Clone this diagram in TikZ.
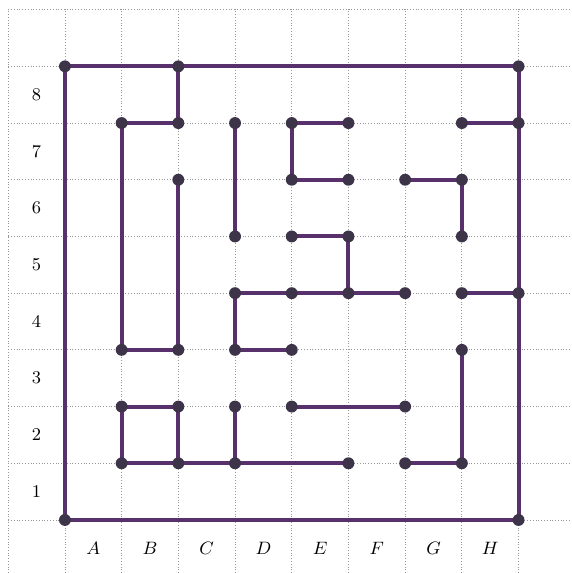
\documentclass[tikz,border=0pt]{standalone}
\usepackage{tikz}

\definecolor{wallcol}{RGB}{88,48,108}
\definecolor{dotcol}{RGB}{62,52,74}
\definecolor{gridcol}{RGB}{150,150,150}

\begin{document}
\begin{tikzpicture}[line width=2pt,
    gridline/.style={gridcol,line width=0.4pt,densely dotted},
    wall/.style={wallcol,line cap=round,line join=round},
    lbl/.style={font=\small}]
  \useasboundingbox (-1.145,-0.935) rectangle (8.934,9.17);
  % cuadricula
  \foreach \x in {-1,...,8} \draw[gridline] (\x,-0.935)--(\x,9.02);
  \foreach \y in {0,...,9} \draw[gridline] (-1,\y)--(8.934,\y);
  % etiquetas
  \foreach \n in {1,...,8} \node[lbl] at (-0.5,\n-0.5){\n};
  \foreach \c [count=\i] in {A,B,C,D,E,F,G,H} \node[lbl] at (\i-0.5,-0.5){$\c$};
  % puntos de la red
  \foreach \i in {0,...,8} \foreach \j in {0,...,8}{
    \coordinate (p\i\j) at (\i,\j);
  }
  % paredes
  \draw[wall] (p00)--(p08)--(p88)--(p80)--cycle;
  \draw[wall] (p28)--(p27)--(p17)--(p13)--(p23)--(p26);
  \draw[wall] (p37)--(p35);
  \draw[wall] (p57)--(p47)--(p46)--(p56);
  \draw[wall] (p45)--(p55)--(p54);
  \draw[wall] (p43)--(p33)--(p34)--(p64);
  \draw[wall] (p66)--(p76)--(p75);
  \draw[wall] (p77)--(p87);
  \draw[wall] (p74)--(p84);
  \draw[wall] (p73)--(p71)--(p61);
  \draw[wall] (p21)--(p22)--(p12)--(p11)--(p51);
  \draw[wall] (p32)--(p31);
  \draw[wall] (p42)--(p62);
  % nodos
  \foreach \p in {08,28,88,00,80,17,27,26,13,23,37,35,47,57,46,56,45,55,
                  34,44,54,64,33,43,66,76,75,77,87,74,84,73,71,61,
                  12,22,11,21,31,51,32,42,62}
    \fill[dotcol] (p\p) circle (0.105);
\end{tikzpicture}
\end{document}
